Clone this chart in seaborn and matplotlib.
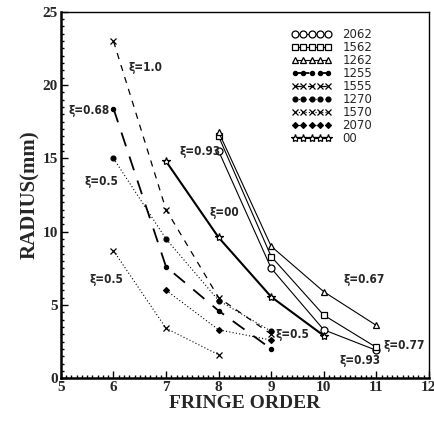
import matplotlib
matplotlib.use("Agg")
import matplotlib.pyplot as plt
import pandas as pd
import seaborn as sns
from matplotlib.ticker import MultipleLocator

# fringe order / radius (mm) per specimen
S2062_X = [8, 9, 10, 11]
S2062_Y = [15.5, 7.5, 3.3, 1.9]
S1562_X = [8, 9, 10, 11]
S1562_Y = [16.5, 8.3, 4.3, 2.1]
S1262_X = [8, 9, 10, 11]
S1262_Y = [16.8, 9.0, 5.9, 3.6]
S1255_X = [6, 7, 8, 9]
S1255_Y = [18.4, 7.6, 4.6, 2.0]
S1555_X = [6, 7, 8, 9]
S1555_Y = [23.0, 11.5, 5.5, 3.0]
S1270_X = [6, 7, 8, 9]
S1270_Y = [15.0, 9.5, 5.3, 3.2]
S1570_X = [6, 7, 8]
S1570_Y = [8.7, 3.4, 1.6]
S2070_X = [7, 8, 9]
S2070_Y = [6.0, 3.3, 2.6]
S00_X = [7, 8, 9, 10]
S00_Y = [14.8, 9.6, 5.55, 2.9]

SERIES = [
    ("2062", S2062_X, S2062_Y),
    ("1562", S1562_X, S1562_Y),
    ("1262", S1262_X, S1262_Y),
    ("1255", S1255_X, S1255_Y),
    ("1555", S1555_X, S1555_Y),
    ("1270", S1270_X, S1270_Y),
    ("1570", S1570_X, S1570_Y),
    ("2070", S2070_X, S2070_Y),
    ("00", S00_X, S00_Y),
]

LABELS = [
    (6.29, 21.2, "ξ=1.0"),
    (5.15, 18.3, "ξ=0.68"),
    (5.45, 13.4, "ξ=0.5"),
    (5.55, 6.7, "ξ=0.5"),
    (7.25, 15.5, "ξ=0.93"),
    (7.83, 11.3, "ξ=00"),
    (10.37, 6.7, "ξ=0.67"),
    (9.08, 3.0, "ξ=0.5"),
    (11.13, 2.25, "ξ=0.77"),
    (10.3, 1.2, "ξ=0.93"),
]

STYLES = {
    "2062": dict(marker="o", mfc="white", linestyle="-", lw=0.8, ms=5),
    "1562": dict(marker="s", mfc="white", linestyle="-", lw=0.8, ms=5),
    "1262": dict(marker="^", mfc="white", linestyle="-", lw=0.8, ms=5),
    "1255": dict(marker="o", mfc="black", linestyle=(0, (8, 6)), lw=1.3, ms=3),
    "1555": dict(marker="x", mfc="black", linestyle=(0, (5, 5)), lw=0.9, ms=4),
    "1270": dict(marker="o", mfc="black", linestyle=(0, (1, 2)), lw=0.8, ms=3.5),
    "1570": dict(marker="x", mfc="black", linestyle=(0, (1, 2)), lw=0.8, ms=4),
    "2070": dict(marker="D", mfc="black", linestyle=(0, (1, 2)), lw=0.8, ms=3),
    "00": dict(marker="*", mfc="white", linestyle="-", lw=1.5, ms=6),
}

sns.set_theme(style="ticks")
plt.rcParams["font.family"] = ["Liberation Serif", "DejaVu Serif"]

fig = plt.figure(figsize=(4.35, 4.23), dpi=100)
ax = fig.add_axes([0.14, 0.106, 0.846, 0.866])

for name, xs, ys in SERIES:
    st = STYLES[name]
    df = pd.DataFrame({"x": xs, "y": ys})
    sns.lineplot(data=df, x="x", y="y", ax=ax, color="black",
                 linestyle=st["linestyle"], lw=st["lw"],
                 marker=st["marker"], markersize=st["ms"],
                 markerfacecolor=st["mfc"], markeredgecolor="black",
                 markeredgewidth=0.9, label=name)

for x, y, t in LABELS:
    ax.text(x, y, t, fontsize=8.5, fontweight="bold", family=["DejaVu Sans"],
            stretch="condensed", va="center", ha="left")

ax.set_xlim(5, 12)
ax.set_ylim(0, 25)
ax.xaxis.set_major_locator(MultipleLocator(1))
ax.xaxis.set_minor_locator(MultipleLocator(0.1))
ax.yaxis.set_major_locator(MultipleLocator(5))
ax.yaxis.set_minor_locator(MultipleLocator(0.5))
ax.tick_params(which="both", direction="in", color="black", width=1.0)
ax.tick_params(which="major", length=5, labelsize=11, pad=2)
ax.tick_params(which="minor", length=2.5)
for lab in ax.get_xticklabels() + ax.get_yticklabels():
    lab.set_fontweight("bold")
for sp in ax.spines.values():
    sp.set_color("black")
    sp.set_linewidth(1.0)
ax.spines["bottom"].set_linewidth(1.8)
ax.spines["left"].set_linewidth(1.8)

ax.set_xlabel("FRINGE ORDER", fontsize=14, fontweight="bold", labelpad=1)
ax.set_ylabel("RADIUS(mm)", fontsize=15, fontweight="bold", labelpad=2)

leg = ax.legend(loc="upper right", bbox_to_anchor=(0.875, 0.985), frameon=False,
                numpoints=5, handlelength=3.4, labelspacing=0.0,
                handletextpad=0.9, prop={"family": "DejaVu Sans", "size": 8.5})

fig.savefig("out.png", dpi=100)
